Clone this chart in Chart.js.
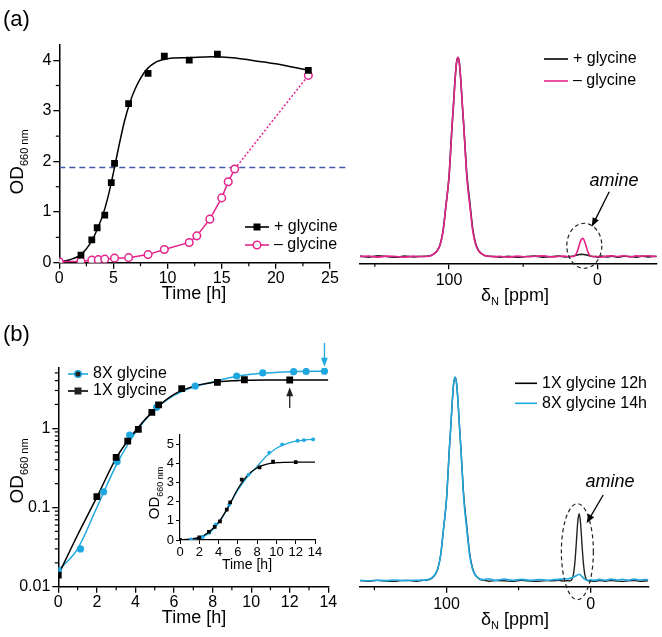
<!DOCTYPE html>
<html>
<head>
<meta charset="utf-8">
<script src="https://cdn.jsdelivr.net/npm/chart.js@4.4.0/dist/chart.umd.min.js"></script>
<style>
  body { margin: 0; background: #fff; width: 662px; height: 637px; position: relative; overflow: hidden; }
  canvas { position: absolute; }
</style>
</head>
<body>
<canvas id="growthA" width="350" height="310" style="left:0;top:0"></canvas>
<canvas id="nmrA" width="317" height="310" style="left:345px;top:0"></canvas>
<canvas id="growthB" width="345" height="317" style="left:0;top:320px"></canvas>
<canvas id="inset" width="190" height="150" style="left:135px;top:425px"></canvas>
<canvas id="nmrB" width="317" height="317" style="left:345px;top:320px"></canvas>
<script>
// (a) growth curves
const timePlus = [2, 3, 3.5, 4.2, 4.8, 5.1, 6.4, 8.2, 9.7, 12, 14.6, 23];
const odPlus = [0.15, 0.45, 0.69, 0.94, 1.58, 1.96, 3.14, 3.74, 4.08, 4.0, 4.12, 3.8];
const timeMinus = [0, 2, 3, 3.6, 4.2, 5.1, 6.4, 8.2, 9.7, 12, 12.7, 13.9, 15.0, 15.6, 16.2, 23];
const odMinus = [0.02, 0.03, 0.05, 0.06, 0.07, 0.09, 0.1, 0.16, 0.26, 0.4, 0.53, 0.86, 1.28, 1.6, 1.85, 3.7];
const fitTimeA = [0, 1, 2, 3, 3.5, 4, 4.5, 5, 5.5, 6, 6.5, 7, 8, 9, 10, 12, 14, 16, 18, 20, 23];
const fitPlus = [0.02, 0.06, 0.16, 0.43, 0.66, 0.93, 1.3, 1.78, 2.3, 2.78, 3.15, 3.43, 3.8, 3.97, 4.03, 4.05, 4.07, 4.05, 3.99, 3.93, 3.8];
const threshold = 1.88;

// (b) growth curves
const time1X = [0, 2, 3, 3.6, 4.15, 4.85, 5.2, 6.4, 8.25, 9.65, 12];
const od1X = [0.014, 0.137, 0.43, 0.69, 0.97, 1.59, 1.97, 3.16, 3.8, 4.1, 4.07];
const time8X = [0, 1.15, 2.35, 3.05, 3.7, 5.1, 7.1, 9.25, 10.6, 12.2, 12.85, 13.8];
const od8X = [0.016, 0.03, 0.158, 0.38, 0.82, 1.84, 3.42, 4.57, 5.0, 5.19, 5.22, 5.26];
const fitTimeB = [0, 1, 2, 3, 4, 5, 6, 7, 8, 9, 10, 11, 12, 13, 14];
const fit1X = [0.014, 0.045, 0.135, 0.42, 0.93, 1.72, 2.68, 3.38, 3.78, 3.97, 4.04, 4.06, 4.07, 4.07, 4.07];
const fit8X = [0.016, 0.03, 0.1, 0.34, 0.88, 1.72, 2.6, 3.3, 3.85, 4.4, 4.8, 5.03, 5.17, 5.24, 5.27];

// 15N spectra, shift grid in ppm
const ppm = [160, 154, 148, 142, 136, 130, 124, 120, 118, 116,
  114, 112, 110, 108, 106, 104, 102, 100, 99, 98,
  97, 96, 95, 94, 93, 92, 91, 90, 89, 88,
  86, 84, 82, 80, 78, 76, 74, 72, 70, 66,
  60, 54, 48, 42, 36, 30, 26, 22, 19, 17,
  16, 15, 14, 13, 12, 11, 10, 9, 8, 7,
  6, 5, 4, 3, 2, 1, 0, -3, -6, -10,
  -14, -18, -22, -26, -30, -34, -38, -40];
const specPlus = [0.3, -0.2, 0.4, 0.1, -0.3, 0.3, -0.1, 0.2, 0.1, 0.2,
  0.3, 0.6, 1.5, 3, 6, 13, 26, 40, 52, 65,
  76, 88, 97, 100, 97, 88, 76, 65, 53, 41.5,
  27.5, 14, 6.5, 3, 1.5, 0.6, 0.3, 0.1, 0.2, -0.2,
  0.2, -0.3, 0.1, 0.3, -0.2, 0.1, 0.3, -0.1, 0.1, 0.2,
  0.4, 0.6, 0.8, 1.0, 1.1, 1.2, 1.2, 1.1, 1.0, 0.8,
  0.6, 0.4, 0.2, 0.1, 0.1, 0, -0.2, 0.3, -0.1, 0.2,
  -0.3, 0.2, 0.1, -0.2, 0.3, -0.1, 0.2, 0];
const specMinus = [0.1, 0.3, -0.2, 0.3, 0.1, -0.2, 0.3, 0, 0.2, 0.1,
  0.2, 0.6, 1.5, 3, 6, 13, 26, 40, 52, 65,
  76, 88, 97, 100, 97, 88, 76, 65, 52, 40,
  26, 13, 6, 3, 1.5, 0.6, 0.2, 0.3, -0.1, 0.2,
  -0.2, 0.3, 0, 0.2, 0.4, -0.1, 0.2, 0.3, 0, 0.1,
  0.2, 0.6, 1.8, 3.8, 6.3, 8.4, 9.2, 8.4, 6.3, 3.8,
  1.8, 0.6, 0.2, 0.1, 0, 0.2, 0.1, -0.2, 0.3, 0.4,
  0.1, 0.5, -0.1, 0.4, 0.2, 0.5, 0.1, 0.3];
const spec1X12h = [0.2, -0.1, 0.3, 0, -0.2, 0.3, 0.1, -0.1, 0.2, 0.3,
  0.4, 0.7, 1.5, 3, 6, 13, 26, 40, 52, 65,
  76, 88, 97, 100, 97, 88, 76, 65, 53, 41.5,
  27.5, 14, 6.5, 3, 1.5, 0.6, 0.3, 0.1, -0.1, 0.2,
  0.1, -0.2, 0.3, 0, -0.1, 0.2, 0.1, 0.3, 0, 0.1,
  0.1, 0.1, 0.2, 0.8, 3, 8.5, 18, 28.5, 33, 28.5,
  18, 8.5, 3, 0.8, 0.2, 0.1, 0, -0.2, 0.2, -0.1,
  0.2, 0, -0.2, 0.1, 0.2, -0.1, 0, 0.1];
const spec8X14h = [0.3, 0.1, 0.4, 0.2, 0.5, 0.2, 0.4, 0.3, 0.5, 0.4,
  0.6, 0.9, 1.7, 3.2, 6.2, 13, 26, 40, 52, 65,
  76, 88, 97, 100, 97, 88, 76, 65, 52, 40,
  26, 13, 6, 3, 1.5, 0.8, 0.6, 1.1, 0.9, 0.4,
  0.9, 0.4, 0.8, 0.3, 0.7, 0.4, 0.6, 0.8, 1.0, 1.1,
  1.0, 1.2, 1.4, 1.6, 1.9, 2.2, 2.6, 3.0, 3.3, 2.9,
  2.2, 1.4, 0.8, 0.5, 0.3, 0.4, 0.6, 0.3, 0.8, 0.4,
  0.9, 0.5, 0.8, 0.4, 0.9, 0.5, 0.7, 0.6];

const BLACK = '#000', PINK = '#e4238b', BLUE = '#1fa8e0', NAVY = '#4456a6';
const FONT = "'Liberation Sans', Arial, Helvetica, sans-serif";

Chart.defaults.font.family = FONT;
Chart.defaults.font.size = 16;
Chart.defaults.color = BLACK;
Chart.defaults.animation = false;
Chart.defaults.events = [];
Chart.defaults.plugins.legend.display = false;
Chart.defaults.plugins.tooltip.enabled = false;

function pts(xs, ys) {
  return xs.map((x, i) => ({ x: x, y: ys[i] }));
}

function axis(min, max, ticks, size, horizontal, extra) {
  return Object.assign({
    type: 'linear', min: min, max: max,
    afterBuildTicks: s => { s.ticks = ticks.map(v => ({ value: v })); },
    afterFit: s => { if (horizontal) s.height = size; else s.width = size; },
    grid: { drawOnChartArea: false, color: BLACK, tickColor: BLACK, tickLength: 6, lineWidth: 1.3 },
    border: { color: BLACK, width: 1.5 },
    ticks: { padding: horizontal ? 0 : 2, maxRotation: 0, autoSkip: false }
  }, extra || {});
}

function drawText(ctx, t) {
  const size = t.size || 16, subSize = t.subSize || Math.round(size * 0.62);
  const fMain = (t.italic ? 'italic ' : '') + size + 'px ' + FONT;
  const fSub = subSize + 'px ' + FONT;
  ctx.save();
  ctx.translate(t.x, t.y);
  if (t.rot) ctx.rotate(t.rot);
  ctx.fillStyle = BLACK;
  ctx.textBaseline = 'middle';
  ctx.textAlign = 'left';
  ctx.font = fMain;
  const w1 = ctx.measureText(t.text).width;
  const w3 = t.rest ? ctx.measureText(t.rest).width : 0;
  ctx.font = fSub;
  const w2 = t.sub ? ctx.measureText(t.sub).width : 0;
  const x0 = t.align === 'left' ? 0 : -(w1 + w2 + w3) / 2;
  ctx.font = fMain;
  ctx.fillText(t.text, x0, 0);
  if (t.sub) { ctx.font = fSub; ctx.fillText(t.sub, x0 + w1, size * 0.35); }
  if (t.rest) { ctx.font = fMain; ctx.fillText(t.rest, x0 + w1 + w2, 0); }
  ctx.restore();
}

function drawMarker(ctx, style, x, y, r, color, fill) {
  ctx.lineWidth = 1.5;
  ctx.strokeStyle = color;
  ctx.fillStyle = fill || color;
  if (style === 'rect') {
    ctx.fillRect(x - r, y - r, 2 * r, 2 * r);
  } else {
    ctx.beginPath();
    ctx.arc(x, y, r, 0, 2 * Math.PI);
    ctx.fill();
    ctx.stroke();
  }
}

function drawArrow(ctx, x1, y1, x2, y2, head) {
  const a = Math.atan2(y2 - y1, x2 - x1), c = Math.cos(a), s = Math.sin(a);
  ctx.setLineDash([]);
  ctx.beginPath();
  ctx.moveTo(x1, y1);
  ctx.lineTo(x2 - head * 0.8 * c, y2 - head * 0.8 * s);
  ctx.stroke();
  ctx.beginPath();
  ctx.moveTo(x2, y2);
  ctx.lineTo(x2 - head * c + head * 0.38 * s, y2 - head * s - head * 0.38 * c);
  ctx.lineTo(x2 - head * c - head * 0.38 * s, y2 - head * s + head * 0.38 * c);
  ctx.closePath();
  ctx.fill();
}

// minor ticks, legends, labels, arrows and ellipses
const decor = {
  id: 'decor',
  afterDraw(chart, args, o) {
    const ctx = chart.ctx, sx = chart.scales.x, sy = chart.scales.y;
    ctx.save();
    ctx.strokeStyle = BLACK;
    ctx.lineWidth = 1.2;
    (o.minorX || []).forEach(v => {
      const p = sx.getPixelForValue(v);
      ctx.beginPath(); ctx.moveTo(p, sx.top); ctx.lineTo(p, sx.top + 3.5); ctx.stroke();
    });
    (o.minorY || []).forEach(v => {
      const p = sy.getPixelForValue(v);
      ctx.beginPath(); ctx.moveTo(sy.right, p); ctx.lineTo(sy.right - 3.5, p); ctx.stroke();
    });
    (o.ellipses || []).forEach(e => {
      ctx.strokeStyle = '#222';
      ctx.lineWidth = 1.2;
      ctx.setLineDash([4, 3]);
      ctx.beginPath();
      ctx.ellipse(sx.getPixelForValue(e.x), sy.getPixelForValue(e.y), e.rx, e.ry, 0, 0, 2 * Math.PI);
      ctx.stroke();
    });
    (o.arrows || []).forEach(a => {
      ctx.strokeStyle = a.color || BLACK;
      ctx.fillStyle = a.color || BLACK;
      ctx.lineWidth = 1.3;
      drawArrow(ctx, sx.getPixelForValue(a.x1), sy.getPixelForValue(a.y1),
        sx.getPixelForValue(a.x2), sy.getPixelForValue(a.y2), a.head || 9);
    });
    ctx.setLineDash([]);
    (o.legend || []).forEach(it => {
      ctx.strokeStyle = it.color;
      ctx.lineWidth = 1.6;
      ctx.beginPath(); ctx.moveTo(it.x, it.y); ctx.lineTo(it.x + it.len, it.y); ctx.stroke();
      if (it.point) drawMarker(ctx, it.point, it.x + it.len / 2, it.y, it.r, it.color, it.fill);
      drawText(ctx, { text: it.label, x: it.x + it.len + 5, y: it.y, size: it.size || 16, align: 'left' });
    });
    (o.texts || []).forEach(t => drawText(ctx, t));
    ctx.restore();
  }
};
Chart.register(decor);

const odLabel = { text: 'OD', sub: '660 nm', size: 19, subSize: 11, rot: -Math.PI / 2 };
const shiftLabel = { text: '\u03b4', sub: 'N', rest: ' [ppm]', size: 18, subSize: 11 };
const halfTicks = [2.5, 7.5, 12.5, 17.5, 22.5];
const oddTicks = [1, 3, 5, 7, 9, 11, 13];
const evenTicks = [0, 2, 4, 6, 8, 10, 12, 14];

// (a) left: growth with and without glycine
new Chart(document.getElementById('growthA'), {
  type: 'scatter',
  data: {
    datasets: [
      { data: pts(timePlus, odPlus), pointStyle: 'rect', pointRadius: 4.8, backgroundColor: BLACK, borderColor: BLACK, borderWidth: 0 },
      { data: pts(timeMinus, odMinus), pointStyle: 'circle', pointRadius: 3.8, backgroundColor: '#fff', borderColor: PINK,
        showLine: true, tension: 0, borderWidth: 1.5,
        segment: { borderDash: c => c.p0.parsed.x >= 16 ? [2, 2] : undefined } },
      { data: pts(fitTimeA, fitPlus), showLine: true, pointRadius: 0, borderColor: BLACK, borderWidth: 1.5, cubicInterpolationMode: 'monotone' },
      { data: [{ x: 0, y: threshold }, { x: 26.5, y: threshold }], showLine: true, pointRadius: 0, borderColor: NAVY, borderWidth: 1.3, borderDash: [6, 4], clip: false }
    ]
  },
  options: {
    responsive: false,
    layout: { padding: { top: 45, right: 20, left: 0, bottom: 0 } },
    scales: {
      x: axis(0, 25, [0, 5, 10, 15, 20, 25], 47.3, true),
      y: axis(0, 4.3, [0, 1, 2, 3, 4], 59.3, false)
    },
    plugins: {
      decor: {
        minorX: halfTicks,
        minorY: [0.5, 1.5, 2.5, 3.5],
        legend: [
          { label: '+ glycine', x: 245, y: 227, len: 24, color: BLACK, point: 'rect', r: 3.5 },
          { label: '\u2013 glycine', x: 245, y: 245, len: 24, color: PINK, point: 'circle', r: 3.8, fill: '#fff' }
        ],
        texts: [
          { text: '(a)', x: 3, y: 20, size: 22, align: 'left' },
          Object.assign({ x: 18, y: 162 }, odLabel),
          { text: 'Time [h]', x: 194, y: 294, size: 18 }
        ]
      }
    }
  }
});

// (a) right: 15N spectra
new Chart(document.getElementById('nmrA'), {
  type: 'scatter',
  data: {
    datasets: [
      { data: pts(ppm, specMinus), showLine: true, pointRadius: 0, borderColor: PINK, borderWidth: 1.6, cubicInterpolationMode: 'monotone' },
      { data: pts(ppm, specPlus), showLine: true, pointRadius: 0, borderColor: '#222', borderWidth: 1.6, cubicInterpolationMode: 'monotone' }
    ]
  },
  options: {
    responsive: false,
    layout: { padding: { top: 45, right: 5.3, left: 15, bottom: 0 } },
    scales: {
      x: axis(-40, 160, [100, 0], 46.7, true, { reverse: true, ticks: { padding: 2, maxRotation: 0, autoSkip: false } }),
      y: { type: 'linear', display: false, min: -3.3, max: 106.2 }
    },
    plugins: {
      decor: {
        minorX: [150, 50],
        ellipses: [{ x: 8.8, y: 5.5, rx: 17.5, ry: 22.5 }],
        arrows: [{ x1: -8, y1: 32.6, x2: 3.8, y2: 15 }],
        legend: [
          { label: '+ glycine', x: 199, y: 59, len: 24, color: BLACK },
          { label: '\u2013 glycine', x: 199, y: 81, len: 24, color: PINK }
        ],
        texts: [
          { text: 'amine', x: 269, y: 181, size: 18, italic: true },
          Object.assign({ x: 170, y: 296 }, shiftLabel)
        ]
      }
    }
  }
});

// (b) left: growth at 1X and 8X glycine, log scale
new Chart(document.getElementById('growthB'), {
  type: 'scatter',
  data: {
    datasets: [
      { data: pts(time1X, od1X), pointStyle: 'rect', pointRadius: 4.8, backgroundColor: BLACK, borderWidth: 0 },
      { data: pts(time8X, od8X), pointStyle: 'circle', pointRadius: 3.6, backgroundColor: BLUE, borderColor: BLUE, borderWidth: 0 },
      { data: pts(fitTimeB, fit1X), showLine: true, pointRadius: 0, borderColor: BLACK, borderWidth: 1.5, cubicInterpolationMode: 'monotone' },
      { data: pts(fitTimeB, fit8X), showLine: true, pointRadius: 0, borderColor: BLUE, borderWidth: 1.5, cubicInterpolationMode: 'monotone' }
    ]
  },
  options: {
    responsive: false,
    layout: { padding: { top: 48, right: 16.7, left: 0, bottom: 0 } },
    scales: {
      x: axis(0, 14, evenTicks, 50.3, true),
      y: axis(0.01, 5.77, [0.01, 0.1, 1], 58.3, false, {
        type: 'logarithmic',
        ticks: { padding: 2, autoSkip: false, callback: v => String(v) }
      })
    },
    plugins: {
      decor: {
        minorX: oddTicks,
        minorY: [0.02, 0.03, 0.04, 0.05, 0.06, 0.07, 0.08, 0.09, 0.2, 0.3, 0.4, 0.5, 0.6, 0.7, 0.8, 0.9, 2, 3, 4, 5],
        arrows: [
          { x1: 13.8, y1: 12, x2: 13.8, y2: 6.0, color: BLUE },
          { x1: 12, y1: 1.8, x2: 12, y2: 3.3, color: '#222' }
        ],
        legend: [
          { label: '8X glycine', x: 68, y: 54, len: 20, color: BLUE, point: 'circle', r: 3.3 },
          { label: '1X glycine', x: 68, y: 71, len: 20, color: BLACK, point: 'rect', r: 3.5 }
        ],
        texts: [
          { text: '(b)', x: 3, y: 15, size: 22, align: 'left' },
          Object.assign({ x: 18, y: 151 }, odLabel),
          { text: 'Time [h]', x: 194, y: 298, size: 18 }
        ]
      }
    }
  }
});

// (b) inset: same curves on a linear scale
new Chart(document.getElementById('inset'), {
  type: 'scatter',
  data: {
    datasets: [
      { data: pts(time1X, od1X), pointStyle: 'rect', pointRadius: 2.6, backgroundColor: BLACK, borderWidth: 0 },
      { data: pts(time8X, od8X), pointStyle: 'circle', pointRadius: 1.9, backgroundColor: BLUE, borderWidth: 0 },
      { data: pts(fitTimeB, fit1X), showLine: true, pointRadius: 0, borderColor: BLACK, borderWidth: 1.3, cubicInterpolationMode: 'monotone' },
      { data: pts(fitTimeB, fit8X), showLine: true, pointRadius: 0, borderColor: BLUE, borderWidth: 1.3, cubicInterpolationMode: 'monotone' }
    ]
  },
  options: {
    responsive: false,
    layout: { padding: { top: 8.3, right: 10, left: 0, bottom: 0 } },
    scales: {
      x: axis(0, 14, evenTicks, 35, true, {
        grid: { drawOnChartArea: false, color: BLACK, tickColor: BLACK, tickLength: 4, lineWidth: 1 },
        border: { color: BLACK, width: 1.2 },
        ticks: { padding: 1, maxRotation: 0, autoSkip: false, font: { size: 13 } }
      }),
      y: axis(0, 5.5, [0, 1, 2, 3, 4, 5], 45, false, {
        grid: { drawOnChartArea: false, color: BLACK, tickColor: BLACK, tickLength: 4, lineWidth: 1 },
        border: { color: BLACK, width: 1.2 },
        ticks: { padding: 2, autoSkip: false, font: { size: 13 } }
      })
    },
    plugins: {
      decor: {
        texts: [
          Object.assign({}, odLabel, { x: 20, y: 68, size: 15, subSize: 9 }),
          { text: 'Time [h]', x: 112, y: 140, size: 14 }
        ]
      }
    }
  }
});

// (b) right: 15N spectra at 12 h and 14 h
new Chart(document.getElementById('nmrB'), {
  type: 'scatter',
  data: {
    datasets: [
      { data: pts(ppm, spec8X14h), showLine: true, pointRadius: 0, borderColor: BLUE, borderWidth: 1.6, cubicInterpolationMode: 'monotone' },
      { data: pts(ppm, spec1X12h), showLine: true, pointRadius: 0, borderColor: '#222', borderWidth: 1.4, cubicInterpolationMode: 'monotone' }
    ]
  },
  options: {
    responsive: false,
    layout: { padding: { top: 48, right: 13.7, left: 15, bottom: 0 } },
    scales: {
      x: axis(-40, 160, [100, 0], 50.3, true, { reverse: true, ticks: { padding: 2, maxRotation: 0, autoSkip: false } }),
      y: { type: 'linear', display: false, min: -2.8, max: 104.57 }
    },
    plugins: {
      decor: {
        minorX: [150, 50],
        ellipses: [{ x: 9.2, y: 14.4, rx: 16, ry: 48 }],
        arrows: [{ x1: -8.7, y1: 42.2, x2: 2.8, y2: 28.3 }],
        legend: [
          { label: '1X glycine 12h', x: 170, y: 63.3, len: 22, color: BLACK },
          { label: '8X glycine 14h', x: 170, y: 83.3, len: 22, color: BLUE }
        ],
        texts: [
          { text: 'amine', x: 265, y: 162, size: 18, italic: true },
          Object.assign({ x: 170, y: 300 }, shiftLabel)
        ]
      }
    }
  }
});
</script>
</body>
</html>
